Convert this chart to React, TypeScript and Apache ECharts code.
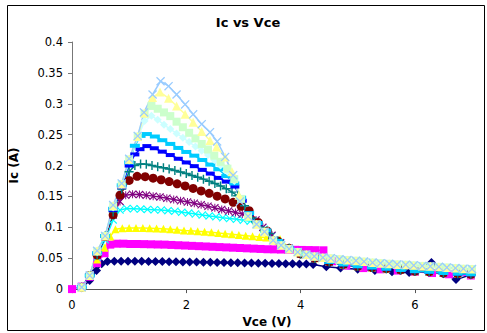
import React, { useEffect, useRef } from 'react';
import * as echarts from 'echarts';

const titleText = 'Ic vs Vce';
const xName = 'Vce (V)';
const yName = 'Ic (A)';
const xTickValues = [0, 2, 4, 6];

const seriesNames = ['Series1', 'Series2', 'Series3', 'Series4', 'Series5', 'Series6', 'Series7', 'Series8', 'Series9', 'Series10', 'Series11', 'Series12', 'Series13'];
const seriesColors = ['#000080', '#FF00FF', '#FFFF00', '#00FFFF', '#800080', '#800000', '#008080', '#0000FF', '#00CCFF', '#CCFFFF', '#CCFFCC', '#FFFF99', '#99CCFF'];

// shared tail of the upper curves (Vce, Ic)
const tailUpper = [[3.08, 0.118], [3.23, 0.105], [3.37, 0.093], [3.52, 0.079], [3.66, 0.071], [3.8, 0.065], [3.95, 0.06], [4.1, 0.056], [4.24, 0.053], [4.39, 0.051], [4.53, 0.05], [4.68, 0.0485], [4.82, 0.047], [4.97, 0.046], [5.11, 0.0445], [5.26, 0.043], [5.4, 0.042], [5.55, 0.041], [5.69, 0.04], [5.84, 0.0395], [5.98, 0.0385], [6.13, 0.0375], [6.27, 0.037], [6.42, 0.036], [6.56, 0.035], [6.71, 0.034], [6.85, 0.033], [7.0, 0.0325]];
// shared tail of the middle curves
const tailMid = [[3.8, 0.066], [4.0, 0.057], [4.25, 0.05], [4.5, 0.044], [4.75, 0.04], [5.0, 0.037], [5.25, 0.035], [5.5, 0.033], [5.75, 0.031], [6.0, 0.029], [6.25, 0.028], [6.5, 0.026], [6.75, 0.025], [6.98, 0.024]];

const s1 = [[0.17, 0.002], [0.31, 0.014], [0.43, 0.03], [0.52, 0.041], [0.62, 0.0445], [0.74, 0.045], [0.86, 0.045], [0.98, 0.045], [1.1, 0.045], [1.22, 0.045], [1.34, 0.0448], [1.46, 0.0446], [1.58, 0.0445], [1.7, 0.0444], [1.82, 0.0442], [1.94, 0.044], [2.06, 0.044], [2.18, 0.0438], [2.3, 0.0436], [2.42, 0.0434], [2.54, 0.0432], [2.66, 0.043], [2.78, 0.0428], [2.9, 0.0426], [3.02, 0.0424], [3.14, 0.0422], [3.26, 0.042], [3.38, 0.0418], [3.5, 0.0416], [3.62, 0.0414], [3.74, 0.0412], [3.86, 0.041], [3.98, 0.0408], [4.1, 0.0405], [4.22, 0.04], [4.45, 0.036], [4.7, 0.034], [5.0, 0.032], [5.3, 0.03], [5.6, 0.028], [5.9, 0.027], [6.29, 0.043], [6.5, 0.025], [6.72, 0.0155], [6.98, 0.023]];
const s2 = [[0, 0], [0.17, 0.004], [0.31, 0.02], [0.44, 0.042], [0.57, 0.058], [0.67, 0.072], [0.78, 0.0735], [0.9, 0.0735], [1.02, 0.073], [1.14, 0.073], [1.26, 0.0728], [1.38, 0.0725], [1.5, 0.0722], [1.62, 0.072], [1.74, 0.0715], [1.86, 0.071], [1.98, 0.0705], [2.1, 0.07], [2.22, 0.0695], [2.34, 0.069], [2.46, 0.0685], [2.58, 0.068], [2.7, 0.0675], [2.82, 0.067], [2.94, 0.0665], [3.06, 0.066], [3.18, 0.0655], [3.3, 0.065], [3.42, 0.0645], [3.54, 0.0643], [3.66, 0.064], [3.78, 0.0638], [3.9, 0.0636], [4.02, 0.0634], [4.14, 0.0632], [4.26, 0.063], [4.4, 0.0628], [4.55, 0.045], [4.8, 0.038], [5.1, 0.034], [5.4, 0.032], [5.7, 0.03], [6.0, 0.028], [6.3, 0.026], [6.6, 0.024], [6.98, 0.022]];
const s3 = [[0.17, 0.003], [0.31, 0.022], [0.44, 0.048], [0.57, 0.067], [0.67, 0.085], [0.76, 0.097], [0.88, 0.0985], [1.0, 0.099], [1.12, 0.099], [1.24, 0.099], [1.36, 0.0985], [1.48, 0.098], [1.6, 0.0975], [1.72, 0.097], [1.84, 0.096], [1.96, 0.095], [2.08, 0.0943], [2.2, 0.0935], [2.32, 0.0928], [2.44, 0.092], [2.56, 0.091], [2.68, 0.0898], [2.8, 0.0886], [2.92, 0.0875], [3.04, 0.0865], [3.16, 0.0855], [3.28, 0.0845], [3.4, 0.0835], [3.52, 0.0825], [3.64, 0.081]];
const s4 = [[0.17, 0.003], [0.31, 0.022], [0.44, 0.052], [0.58, 0.08], [0.72, 0.112], [0.84, 0.128], [0.96, 0.1305], [1.08, 0.13], [1.2, 0.1295], [1.32, 0.129], [1.44, 0.1285], [1.56, 0.128], [1.68, 0.127], [1.8, 0.126], [1.92, 0.1245], [2.04, 0.123], [2.16, 0.1215], [2.28, 0.12], [2.4, 0.1185], [2.52, 0.117], [2.64, 0.1155], [2.76, 0.1142], [2.88, 0.113], [3.0, 0.1115], [3.12, 0.11], [3.24, 0.104], [3.36, 0.097], [3.5, 0.086], [3.65, 0.074]];
const s5 = [[0.17, 0.003], [0.31, 0.022], [0.44, 0.055], [0.58, 0.084], [0.72, 0.12], [0.84, 0.142], [0.94, 0.152], [1.06, 0.1535], [1.18, 0.153], [1.3, 0.152], [1.42, 0.1505], [1.54, 0.149], [1.66, 0.147], [1.78, 0.145], [1.9, 0.143], [2.02, 0.141], [2.14, 0.139], [2.26, 0.1365], [2.38, 0.134], [2.5, 0.1315], [2.62, 0.129], [2.74, 0.1265], [2.86, 0.124], [2.98, 0.1215], [3.1, 0.119], [3.22, 0.112], [3.34, 0.1], [3.5, 0.087], [3.65, 0.075]];
const s6 = [[0.17, 0.003], [0.31, 0.022], [0.44, 0.055], [0.58, 0.085], [0.72, 0.12], [0.84, 0.152], [1.0, 0.176], [1.14, 0.1825], [1.28, 0.182], [1.42, 0.1795], [1.56, 0.177], [1.7, 0.174], [1.84, 0.1705], [1.98, 0.167], [2.12, 0.163], [2.26, 0.159], [2.4, 0.155], [2.54, 0.1505], [2.68, 0.146], [2.82, 0.1405], [2.96, 0.134], [3.1, 0.127], [3.26, 0.108], [3.42, 0.094], [3.6, 0.078]];
const s7 = [[0.17, 0.003], [0.31, 0.022], [0.44, 0.056], [0.58, 0.086], [0.72, 0.125], [0.87, 0.162], [1.0, 0.19], [1.1, 0.2], [1.2, 0.2025], [1.3, 0.202], [1.4, 0.2], [1.5, 0.198], [1.6, 0.1965], [1.7, 0.1945], [1.8, 0.192], [1.9, 0.1895], [2.0, 0.187], [2.1, 0.184], [2.2, 0.181], [2.3, 0.178], [2.4, 0.1745], [2.5, 0.171], [2.6, 0.167], [2.7, 0.1625], [2.8, 0.157], [2.9, 0.151], [3.02, 0.135], [3.15, 0.115], [3.3, 0.1], [3.45, 0.09], [3.6, 0.078]];
const s8 = [[0.17, 0.003], [0.31, 0.022], [0.44, 0.058], [0.58, 0.086], [0.72, 0.128], [0.87, 0.165], [1.0, 0.2], [1.1, 0.218], [1.19, 0.2265], [1.31, 0.2315], [1.44, 0.228], [1.58, 0.2225], [1.72, 0.217], [1.86, 0.211], [2.0, 0.205], [2.14, 0.199], [2.28, 0.193], [2.42, 0.187], [2.56, 0.18], [2.7, 0.174], [2.85, 0.166], [2.98, 0.143], [3.1, 0.122], [3.25, 0.106], [3.4, 0.094], [3.6, 0.078]];
const s9 = [[0.17, 0.003], [0.31, 0.022], [0.44, 0.058], [0.58, 0.086], [0.72, 0.13], [0.87, 0.168], [1.0, 0.205], [1.1, 0.232], [1.2, 0.248], [1.31, 0.251], [1.45, 0.247], [1.58, 0.241], [1.72, 0.235], [1.86, 0.2285], [2.0, 0.222], [2.14, 0.216], [2.28, 0.209], [2.42, 0.2015], [2.56, 0.194], [2.7, 0.183], [2.84, 0.171], [2.96, 0.148], [3.1, 0.123], [3.25, 0.107], [3.4, 0.095], [3.6, 0.078]];
const s10 = [[0.17, 0.003], [0.31, 0.022], [0.44, 0.06], [0.58, 0.086], [0.72, 0.132], [0.87, 0.169], [1.0, 0.208], [1.15, 0.245], [1.27, 0.272], [1.39, 0.2805], [1.5, 0.274], [1.61, 0.266], [1.72, 0.259], [1.83, 0.252], [1.94, 0.245], [2.05, 0.238], [2.16, 0.231], [2.27, 0.224], [2.38, 0.217], [2.49, 0.209], [2.6, 0.2], [2.72, 0.19], [2.84, 0.175], [2.96, 0.145]];
const s11 = [[0.17, 0.003], [0.31, 0.022], [0.44, 0.061], [0.58, 0.086], [0.72, 0.134], [0.87, 0.17], [1.0, 0.21], [1.15, 0.247], [1.27, 0.284], [1.39, 0.2965], [1.5, 0.292], [1.61, 0.286], [1.72, 0.28], [1.83, 0.271], [1.94, 0.262], [2.05, 0.253], [2.16, 0.244], [2.27, 0.235], [2.38, 0.226], [2.49, 0.216], [2.6, 0.206], [2.72, 0.195], [2.84, 0.178], [2.96, 0.146]];
const s12 = [[0.17, 0.003], [0.31, 0.022], [0.44, 0.062], [0.58, 0.086], [0.72, 0.135], [0.87, 0.17], [1.0, 0.21], [1.15, 0.247], [1.27, 0.285], [1.41, 0.31], [1.54, 0.319], [1.69, 0.309], [1.83, 0.2965], [1.98, 0.283], [2.12, 0.27], [2.27, 0.255], [2.415, 0.2405], [2.53, 0.23], [2.68, 0.214], [2.8, 0.19], [2.92, 0.152]];
const s13 = [[0.17, 0.003], [0.31, 0.022], [0.44, 0.062], [0.58, 0.086], [0.72, 0.136], [0.87, 0.171], [1.0, 0.211], [1.15, 0.248], [1.26, 0.286], [1.41, 0.315], [1.55, 0.3365], [1.69, 0.3285], [1.83, 0.315], [1.98, 0.299], [2.12, 0.283], [2.27, 0.267], [2.415, 0.254], [2.54, 0.239], [2.68, 0.214], [2.82, 0.1845], [2.94, 0.142]];

const X_SYM = 'path://M1,0L5,4L9,0L10,1L6,5L10,9L9,10L5,6L1,10L0,9L4,5L0,1Z';
const STAR_SYM = 'path://M1,0L5,4L9,0L10,1L6,5L10,9L9,10L5,6L1,10L0,9L4,5L0,1Z M4.4,0L5.6,0L5.6,10L4.4,10Z';
const PLUS_SYM = 'path://M4.2,0L5.8,0L5.8,4.2L10,4.2L10,5.8L5.8,5.8L5.8,10L4.2,10L4.2,5.8L0,5.8L0,4.2L4.2,4.2Z';

const seriesData = [
  s1, s2, s3.concat(tailMid), s4.concat(tailMid), s5.concat(tailMid), s6.concat(tailMid), s7.concat(tailMid),
  s8.concat(tailMid), s9.concat(tailMid), s10.concat(tailUpper), s11.concat(tailUpper), s12.concat(tailUpper), s13.concat(tailUpper),
];
const symbols: any[] = ['diamond', 'rect', 'triangle', X_SYM, STAR_SYM, 'circle', PLUS_SYM, 'rect', 'rect', 'diamond', 'rect', 'triangle', X_SYM];
const symbolSizes: any[] = [9, 8, 8, 8, 8, 9, 9, [9, 4], [10, 4], 8, 8, 9, 9];

const FONT = '"DejaVu Sans", Arial, sans-serif';

export default function App() {
  const ref = useRef<HTMLDivElement>(null);
  useEffect(() => {
    const chart = echarts.init(ref.current!, null, { renderer: 'svg' });
    chart.setOption({
      animation: false,
      backgroundColor: '#ffffff',
      textStyle: { fontFamily: FONT },
      grid: { left: 72, right: 15, top: 42, bottom: 41 },
      graphic: [
        { type: 'rect', shape: { x: 7.5, y: 5.5, width: 477, height: 325 }, style: { fill: 'none', stroke: '#000', lineWidth: 1 }, z: 100 },
        { type: 'text', x: 248, y: 22, style: { text: titleText, fill: '#000', font: 'bold 13px ' + FONT, textAlign: 'center', textVerticalAlign: 'middle' } },
      ],
      xAxis: {
        type: 'value', min: 0, max: 7,
        name: xName, nameLocation: 'middle', nameGap: 24,
        nameTextStyle: { fontWeight: 'bold', fontSize: 12, color: '#000', padding: [0, 10, 0, 0] },
        axisLine: { show: true, lineStyle: { color: '#555', width: 1 } },
        axisTick: { show: true, length: 4, customValues: xTickValues, lineStyle: { color: '#555' } },
        axisLabel: { customValues: xTickValues, fontSize: 11.5, color: '#000', margin: 10 },
        splitLine: { show: false },
      },
      yAxis: {
        type: 'value', min: 0, max: 0.4, interval: 0.05,
        name: yName, nameLocation: 'middle', nameGap: 52,
        nameTextStyle: { fontWeight: 'bold', fontSize: 12, color: '#000' },
        axisLine: { show: true, lineStyle: { color: '#777', width: 1 } },
        axisTick: { show: true, length: 4, lineStyle: { color: '#777' } },
        axisLabel: { fontSize: 11.5, color: '#000', margin: 9 },
        splitLine: { show: false },
      },
      series: seriesData.map((d, i) => ({
        name: seriesNames[i],
        type: 'line',
        data: d,
        symbol: symbols[i],
        symbolSize: symbolSizes[i],
        showSymbol: true,
        showAllSymbol: true,
        smooth: false,
        clip: false,
        lineStyle: { color: seriesColors[i], width: 1.5 },
        itemStyle: { color: seriesColors[i], borderWidth: 0 },
        emphasis: { disabled: true },
      })),
    });
    return () => chart.dispose();
  }, []);
  return <div ref={ref} style={{ position: 'fixed', left: 0, top: 0, width: 487, height: 333, background: '#fff' }} />;
}
